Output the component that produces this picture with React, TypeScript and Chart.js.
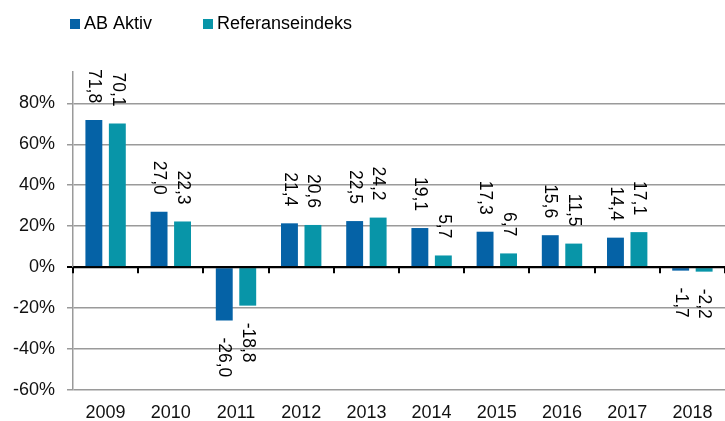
import React, { useEffect, useRef } from "react";
import { Chart, registerables } from "chart.js";

Chart.register(...registerables);

const categories = ["2009", "2010", "2011", "2012", "2013", "2014", "2015", "2016", "2017", "2018"];
const abAktiv = [71.8, 27.0, -26.0, 21.4, 22.5, 19.1, 17.3, 15.6, 14.4, -1.7];
const referanse = [70.1, 22.3, -18.8, 20.6, 24.2, 5.7, 6.7, 11.5, 17.1, -2.2];
const seriesNames = ["AB Aktiv", "Referanseindeks"];
const seriesColors = ["#0562A6", "#0895A8"];
const yTicks = [-60, -40, -20, 0, 20, 40, 60, 80];

const FONT = '"Liberation Sans", Arial, sans-serif';

const labelPlugin = {
  id: "barLabels",
  afterDatasetsDraw(chart: any) {
    const ctx = chart.ctx;
    ctx.save();
    ctx.font = `17.5px ${FONT}`;
    ctx.fillStyle = "#000";
    ctx.textBaseline = "middle";
    chart.data.datasets.forEach((ds: any, di: number) => {
      const meta = chart.getDatasetMeta(di);
      meta.data.forEach((el: any, i: number) => {
        const v = ds.data[i];
        const txt = v.toFixed(1).replace(".", ",");
        ctx.save();
        if (v >= 0) {
          ctx.translate(el.x, el.y - 17);
          ctx.rotate(Math.PI / 2);
          ctx.textAlign = "right";
        } else {
          ctx.translate(el.x, el.y + 17);
          ctx.rotate(Math.PI / 2);
          ctx.textAlign = "left";
        }
        ctx.fillText(txt, 0, 0);
        ctx.restore();
      });
    });
    ctx.restore();
  },
};

const zeroLinePlugin = {
  id: "zeroLine",
  afterDatasetsDraw(chart: any) {
    const ctx = chart.ctx;
    const xs = chart.scales.x;
    const ys = chart.scales.y;
    const y0 = ys.getPixelForValue(0);
    ctx.save();
    ctx.strokeStyle = "#000";
    ctx.lineWidth = 2;
    ctx.beginPath();
    ctx.moveTo(chart.chartArea.left, y0);
    ctx.lineTo(chart.chartArea.right, y0);
    ctx.stroke();
    const w = (xs.getPixelForValue(1) - xs.getPixelForValue(0)) / 2;
    for (let i = 0; i <= categories.length; i++) {
      const x = Math.round(xs.getPixelForValue(Math.min(i, categories.length - 1)) + (i === categories.length ? w : -w));
      ctx.beginPath();
      ctx.moveTo(x, y0);
      ctx.lineTo(x, y0 + 6);
      ctx.stroke();
    }
    ctx.restore();
  },
};

const legendPlugin = {
  id: "customLegend",
  afterDraw(chart: any) {
    const ctx = chart.ctx;
    ctx.save();
    ctx.font = `18px ${FONT}`;
    ctx.textBaseline = "middle";
    ctx.textAlign = "left";
    const xs = [70, 203];
    seriesNames.forEach((name, i) => {
      ctx.fillStyle = seriesColors[i];
      ctx.fillRect(xs[i], 19, 10, 10);
      ctx.fillStyle = "#000";
      ctx.fillText(name, xs[i] + 14, 24);
    });
    ctx.restore();
  },
};

export default function App() {
  const ref = useRef<HTMLCanvasElement | null>(null);
  useEffect(() => {
    if (!ref.current) return;
    const chart = new Chart(ref.current, {
      type: "bar",
      data: {
        labels: categories,
        datasets: [
          { label: seriesNames[0], data: abAktiv, backgroundColor: seriesColors[0] },
          { label: seriesNames[1], data: referanse, backgroundColor: seriesColors[1] },
        ],
      },
      options: {
        animation: false,
        responsive: false,
        maintainAspectRatio: false,
        layout: { padding: { top: 72, left: 0, right: 0, bottom: 0 } },
        datasets: { bar: { categoryPercentage: 0.72, barPercentage: 0.72 } },
        plugins: { legend: { display: false }, tooltip: { enabled: false } },
        scales: {
          x: {
            grid: { display: false, drawTicks: false },
            border: { display: false },
            ticks: { font: { family: FONT, size: 18 }, color: "#111", padding: 12, maxRotation: 0 },
            afterFit(scale: any) {
              scale.height = 31;
            },
          },
          y: {
            min: -60,
            max: 95.3,
            afterBuildTicks(scale: any) {
              scale.ticks = yTicks.map((v) => ({ value: v }));
            },
            afterFit(scale: any) {
              scale.width = 73;
            },
            grid: {
              color: (c: any) => (c.tick && c.tick.value === 0 ? "#000" : "#9a9a9a"),
              lineWidth: (c: any) => (c.tick && c.tick.value === 0 ? 2 : 1.5),
              tickLength: 6,
            },
            border: { color: "#9a9a9a", width: 1.5 },
            ticks: {
              font: { family: FONT, size: 18 },
              color: "#111",
              padding: 12,
              callback: (v: any) => `${v}%`,
            },
          },
        },
      },
      plugins: [zeroLinePlugin, labelPlugin, legendPlugin],
    });
    return () => chart.destroy();
  }, []);
  return (
    <div style={{ position: "absolute", left: 0, top: 0, width: 725, height: 421, background: "#fff" }}>
      <canvas ref={ref} width={725} height={421} />
    </div>
  );
}
